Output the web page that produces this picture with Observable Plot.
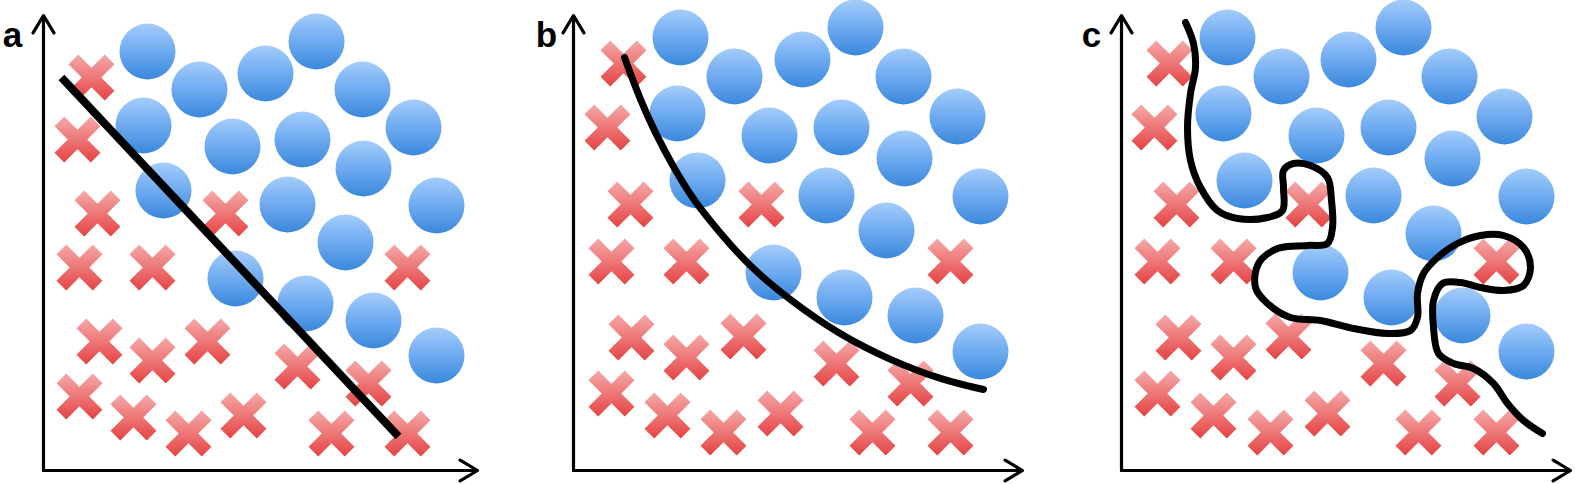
<!DOCTYPE html>
<html><head><meta charset="utf-8">
<script src="https://cdn.jsdelivr.net/npm/d3@7"></script>
<script src="https://cdn.jsdelivr.net/npm/@observablehq/plot@0.6"></script>
<style>
html,body{margin:0;padding:0;background:#fff;}
#wrap{position:relative;width:1575px;height:484px;overflow:hidden;background:#fff;}
#wrap > svg{position:absolute;top:0;}
</style></head><body>
<svg width="0" height="0" style="position:absolute">
<defs>
<linearGradient id="blueGrad" x1="0" y1="0" x2="0" y2="1">
<stop offset="0" stop-color="#a4cdfb"/><stop offset="0.5" stop-color="#6eaaf0"/><stop offset="1" stop-color="#3a88dc"/>
</linearGradient>
<linearGradient id="redGrad" x1="0" y1="0" x2="0" y2="1">
<stop offset="0" stop-color="#f5aaaa"/><stop offset="1" stop-color="#e54242"/>
</linearGradient>
</defs></svg>
<div id="wrap"></div>
<script>
// ---- data (units: axis-relative positions) ----
const panelLabels = ["a", "b", "c"];

const blueA = [[104,419],[273,429],[156,381],[222,397],[319,381],[100,345],[189,324],[259,331],[370,343],[320,302],[120,280],[244,266],[393,265],[302,228],[192,192],[262,167],[330,150],[393,115]];
const redA  = [[48,393],[34,331],[54,257],[36,203],[109,203],[182,257],[364,203],[56,129],[109,110],[164,129],[254,104],[325,87],[36,74],[90,53],[145,37],[200,55],[288,37],[364,37]];
const boundaryA = [[18,393],[355,34]];

const blueB = [[107,433],[282,443],[161,394],[229,411],[330,394],[104,357],[196,335],[268,343],[384,354],[331,312],[124,290],[253,275],[407,274],[313,240],[200,198],[271,173],[342,155],[407,119]];
const redB  = [[50,407],[34,343],[57,266],[38,209],[113,209],[188,266],[377,209],[58,133],[113,113],[170,134],[263,107],[337,87],[38,77],[94,55],[150,38],[207,57],[299,38],[377,38]];
const boundaryB = [[51,413],[67,370],[82,337],[100,303],[120,270],[147,237],[177,203],[217,170],[264,137],[317,110],[370,90],[410,81]];

const blueC = [[106,433],[282,443],[160,394],[227,411],[328,394],[102,357],[195,335],[267,343],[383,354],[331,312],[123,290],[252,275],[405,274],[312,237],[199,198],[270,173],[341,155],[405,119]];
const redC  = [[48,407],[33,343],[55,266],[36,209],[112,209],[187,266],[375,209],[57,133],[112,113],[167,134],[262,107],[336,87],[36,77],[92,55],[149,38],[206,57],[297,38],[375,38]];
const boundaryC = [[64,448],[72,427],[74,403],[69,377],[66,343],[69,310],[79,283],[96,260],[116,252],[146,253],[161,260],[162,283],[162,300],[172,307],[189,305],[206,293],[210,270],[211,243],[206,227],[186,225],[156,222],[137,207],[134,183],[146,167],[169,153],[199,150],[232,142],[266,137],[289,140],[296,153],[296,177],[302,197],[316,213],[336,227],[359,235],[382,235],[402,223],[409,203],[402,185],[382,180],[359,183],[339,188],[321,187],[312,170],[312,143],[317,117],[332,107],[352,102],[372,87],[386,67],[402,50],[421,37]];

const axisXLength = [434, 449, 449];
const axisYLength = [455, 455, 455];

// ---- thick cross symbol ----
const thickCross = {
  draw(ctx, size) {
    const h = Math.sqrt(size / Math.PI);
    const t = h * 0.3;
    const L = h * Math.SQRT2 - t;
    const a = (L + t) / Math.SQRT2, b = (L - t) / Math.SQRT2, c = t * Math.SQRT2;
    ctx.moveTo(0, -c);
    ctx.lineTo(b, -a); ctx.lineTo(a, -b); ctx.lineTo(c, 0);
    ctx.lineTo(a, b); ctx.lineTo(b, a); ctx.lineTo(0, c);
    ctx.lineTo(-b, a); ctx.lineTo(-a, b); ctx.lineTo(-c, 0);
    ctx.lineTo(-a, -b); ctx.lineTo(-b, -a);
    ctx.closePath();
  }
};

const layout = [
  {left: 0,    width: 530, labelDx: -31, lineWidth: 8, curve: "linear"},
  {left: 530,  width: 548, labelDx: -27, lineWidth: 7, curve: "basis"},
  {left: 1078, width: 497, labelDx: -30, lineWidth: 7, curve: "catmull-rom"}
];
const blues = [blueA, blueB, blueC];
const reds = [redA, redB, redC];
const bounds = [boundaryA, boundaryB, boundaryC];

const wrap = document.getElementById("wrap");
panelLabels.forEach((lab, i) => {
  const L = layout[i];
  const ml = 43, mt = 15, mb = 14;
  const xMax = axisXLength[i], yMax = axisYLength[i];
  const chart = Plot.plot({
    width: L.width, height: 484,
    marginLeft: ml, marginTop: mt, marginBottom: mb, marginRight: L.width - ml - xMax,
    x: {domain: [0, xMax], axis: null},
    y: {domain: [0, yMax], axis: null},
    style: {background: "transparent", overflow: "visible"},
    marks: [
      Plot.arrow([{x1: 0, y1: 0, x2: 0, y2: yMax}, {x1: 0, y1: 0, x2: xMax, y2: 0}], {
        x1: "x1", y1: "y1", x2: "x2", y2: "y2",
        stroke: "black", strokeWidth: 3.2, headLength: 9.5, headAngle: 62
      }),
      Plot.dot(blues[i], {x: d => d[0], y: d => d[1], r: 28, fill: "url(#blueGrad)"}),
      Plot.dot(reds[i], {x: d => d[0], y: d => d[1], r: 23, symbol: thickCross, fill: "url(#redGrad)"}),
      Plot.line(bounds[i], {x: d => d[0], y: d => d[1], stroke: "black", strokeWidth: L.lineWidth, curve: L.curve, strokeLinecap: i === 0 ? "butt" : "round"}),
      Plot.text([lab], {text: d => d, frameAnchor: "top-left", dx: L.labelDx, dy: 20,
        textAnchor: "middle", lineAnchor: "middle",
        fontSize: 35, fontWeight: "bold", fontFamily: "Liberation Sans, Arial, sans-serif", fill: "black"})
    ]
  });
  chart.style.left = L.left + "px";
  wrap.appendChild(chart);
});
</script>
</body></html>
